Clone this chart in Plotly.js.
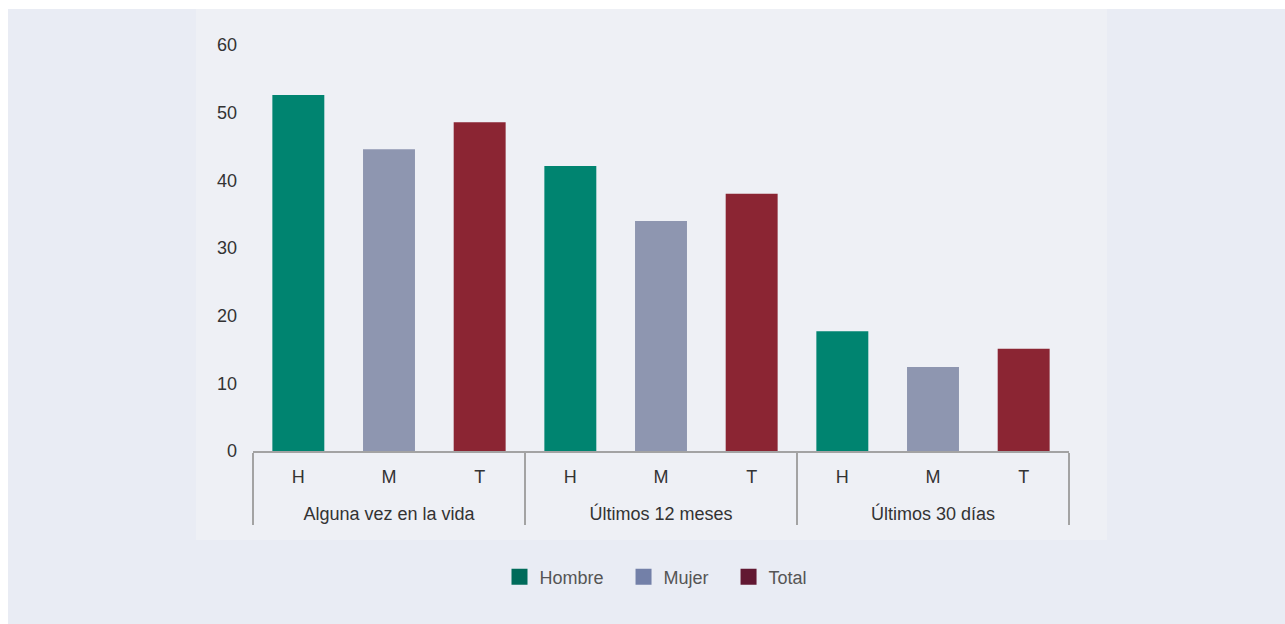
<!DOCTYPE html>
<html>
<head>
<meta charset="utf-8">
<script src="https://cdn.plot.ly/plotly-3.0.1.min.js"></script>
<style>html,body{margin:0;padding:0;background:#fff;}#chart{width:1285px;height:624px;}</style>
</head>
<body>
<div id="chart"></div>
<script>
// ---- data ----
const groups = ["Alguna vez en la vida", "Últimos 12 meses", "Últimos 30 días"];
const seriesNames = ["Hombre", "Mujer", "Total"];
const seriesCodes = ["H", "M", "T"];
const hombre = [52.6, 42.1, 17.7];
const mujer = [44.6, 34.0, 12.4];
const total = [48.6, 38.0, 15.1];
const yTicks = [0, 10, 20, 30, 40, 50, 60];

// ---- styles ----
const barColors = ["#008470", "#8e96b0", "#8b2533"];
const legendColors = ["#006b5a", "#7380a8", "#621832"];
const values = [hombre, mujer, total];
const FONT = "Liberation Sans, Arial, Helvetica, sans-serif";
const NB = "\u00a0";
// outer group labels are pushed one line lower than Plotly's default
const groupLabels = groups.map(g => "<br>" + g);

const traces = [];
values.forEach((vals, i) => {
  traces.push({
    type: "bar",
    name: seriesNames[i],
    x: [groupLabels, groups.map(() => seriesCodes[i])],
    y: vals,
    marker: {color: barColors[i]},
    showlegend: false,
    hoverinfo: "y"
  });
});
// legend entries (legend swatches are darker in the reference)
seriesNames.forEach((n, i) => {
  traces.push({
    type: "scatter",
    mode: "markers",
    name: n + (i < seriesNames.length - 1 ? NB + NB + NB : ""),
    x: [null], y: [null],
    xaxis: "x2", yaxis: "y2",
    marker: {symbol: "square", size: 18, color: legendColors[i]},
    showlegend: true,
    hoverinfo: "skip"
  });
});

const L = 253, R = 1285 - 1069, T = 45, B = 624 - 451;
const pw = 1285 - L - R, ph = 624 - T - B;
const px = p => (p - L) / pw;
const py = q => (624 - B - q) / ph;

const layout = {
  width: 1285, height: 624,
  margin: {l: L, r: R, t: T, b: B, pad: 0},
  paper_bgcolor: "#ffffff",
  plot_bgcolor: "rgba(0,0,0,0)",
  font: {family: FONT, size: 18, color: "#333333"},
  barmode: "overlay",
  bargap: 0.427,
  showlegend: true,
  legend: {
    orientation: "h", x: px(656), xanchor: "center", y: py(577), yanchor: "middle",
    font: {family: FONT, size: 18, color: "#555555"},
    bgcolor: "rgba(0,0,0,0)", traceorder: "normal"
  },
  xaxis: {
    type: "multicategory",
    showline: true, linecolor: "#a3a3a3", linewidth: 2,
    showgrid: false, zeroline: false, ticks: "",
    ticklabelstandoff: 8,
    showdividers: true, dividercolor: "#a3a3a3", dividerwidth: 2,
    tickfont: {family: FONT, size: 18, color: "#333333"},
    fixedrange: true
  },
  yaxis: {
    range: [0, 60], tickvals: yTicks, ticktext: yTicks.map(String),
    showgrid: false, zeroline: false, showline: false, ticks: "",
    ticklabelstandoff: 15,
    tickfont: {family: FONT, size: 18, color: "#333333"},
    fixedrange: true
  },
  xaxis2: {visible: false, overlaying: "x", range: [0, 1]},
  yaxis2: {visible: false, overlaying: "y", range: [0, 1]},
  shapes: [
    {type: "rect", xref: "paper", yref: "paper", layer: "below",
     x0: px(8), x1: px(1285), y0: py(9), y1: py(624),
     fillcolor: "#e9ecf4", line: {width: 0}},
    {type: "rect", xref: "paper", yref: "paper", layer: "below",
     x0: px(196), x1: px(1107), y0: py(9), y1: py(540),
     fillcolor: "#eef0f5", line: {width: 0}}
  ]
};

Plotly.newPlot("chart", traces, layout, {displayModeBar: false, staticPlot: true});
</script>
</body>
</html>
